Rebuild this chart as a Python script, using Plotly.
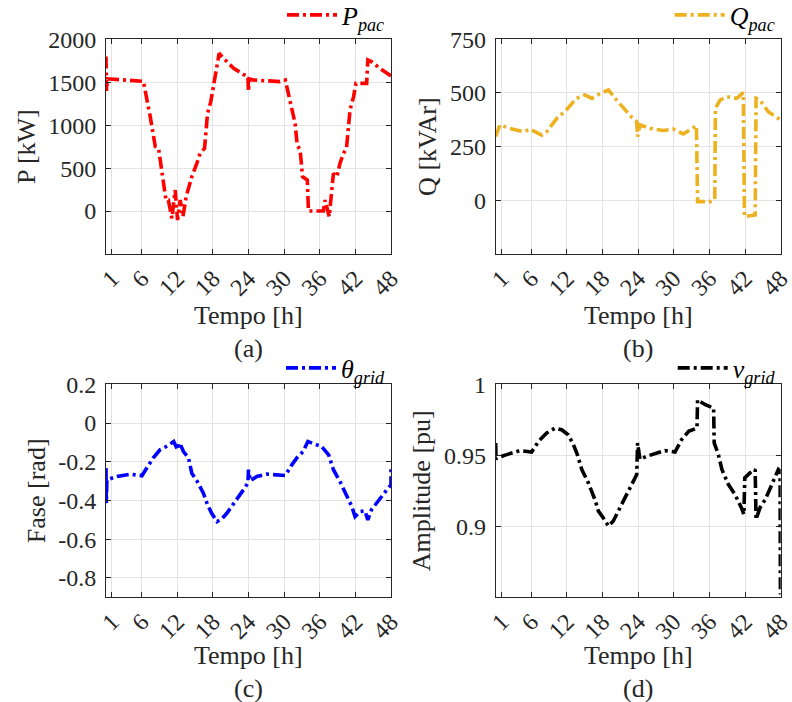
import plotly.graph_objects as go

# ---------------- data ----------------
hour_ticks = [1, 6, 12, 18, 24, 30, 36, 42, 48]

tP = [0, 0.1, 0.25, 2, 4, 5.7, 6.3, 7.45, 8.3, 8.85, 9.7, 10.1, 10.5, 11.1, 11.65, 12.05, 12.5, 12.95, 13.5, 13.9,
      14.45, 15.3, 15.85, 16.6, 17.1, 17.65, 18.4, 19.06, 19.8, 21.5, 23.15, 23.9, 24.0, 24.1, 24.8, 27.1, 29.3, 30.2,
      31.0, 31.85, 32.2, 32.7, 33.1, 33.9, 34.1, 35.5, 36.6, 36.9, 37.3, 37.6, 38.3, 38.9, 39.4, 40.0, 40.5, 41.1,
      41.7, 42.1, 43.9, 44.1, 44.7, 46.1, 48]
P_pac = [1800, 1400, 1540, 1530, 1520, 1507, 1510, 1099, 750, 730, 361, 128, 128, -85, 245, -105, 128, -66, 167, 283,
         400, 555, 672, 730, 1138, 1274, 1604, 1837, 1778, 1662, 1592, 1565, 1390, 1540, 1526, 1514, 1507, 1526,
         1293, 1021, 769, 710, 400, 361, 0, 0, 0, 128, 0, -66, 439, 400, 555, 672, 730, 1177,
         1332, 1487, 1487, 1759, 1740, 1662, 1573]

tQ = [0, 0.7, 2.4, 4.7, 5.8, 7.75, 8.6, 10.3, 11.9, 13.6, 15.0, 16.2, 17.6, 19.0, 20.1, 21.5, 22.9, 23.75, 23.9, 24.3,
      26.0, 28.2, 29.9, 31.6, 32.7, 33.8, 34.0, 35.0, 35.8, 36.9, 37.0, 37.8, 38.9, 40.6, 41.7, 41.9, 43.7, 43.85,
      44.5, 45.9, 48]
Q_pac = [297, 351, 335, 320, 331, 304, 320, 382, 421, 475, 491, 475, 498, 514, 475, 429, 387, 367, 297, 351,
         335, 325, 332, 309, 328, 348, -6, -6, -11, 5, 429, 467, 483, 475, 502, -76, -68, 475,
         467, 413, 374]

tT = [0, 0.05, 0.15, 1.85, 4.1, 6.05, 7.2, 8.0, 9.1, 10.5, 11.4, 12.05, 12.4, 13.05, 13.9, 14.45, 15.3, 16.4, 17.1,
      17.8, 18.7, 19.5, 20.35, 21.2, 22.05, 23.15, 23.9, 24.0, 24.3, 25.4, 27.1, 29.3, 30.2, 31.3, 32.2, 33.2, 34.0,
      35.0, 36.3, 37.5, 38.3, 39.4, 40.5, 41.4, 41.95, 42.8, 43.6, 44.1, 44.7, 45.9, 47.3, 48.0, 48.0]
theta_grid = [-0.233, -0.414, -0.293, -0.276, -0.264, -0.272, -0.216, -0.178, -0.138, -0.116, -0.095, -0.138, -0.103,
              -0.147, -0.181, -0.259, -0.298, -0.362, -0.422, -0.466, -0.509, -0.495, -0.466, -0.431, -0.397, -0.345,
              -0.31, -0.241, -0.298, -0.276, -0.264, -0.267, -0.271, -0.216, -0.178, -0.147, -0.095, -0.107, -0.121,
              -0.164, -0.241, -0.302, -0.371, -0.431, -0.483, -0.457, -0.453, -0.5, -0.448, -0.397, -0.345, -0.319,
              -0.224]

tV = [0, 0.05, 0.15, 1.85, 4.1, 6.05, 7.2, 8.6, 10.0, 11.1, 12.2, 13.1, 13.75, 14.5, 15.6, 16.7, 17.3, 18.1, 19.0,
      19.8, 20.65, 21.8, 22.9, 23.75, 23.9, 24.3, 25.4, 27.1, 28.5, 30.2, 31.3, 32.5, 33.9, 34.0, 35.3, 36.7, 36.8,
      37.5, 38.1, 39.2, 40.3, 41.4, 41.8, 41.95, 42.8, 43.7, 43.85, 44.5, 45.4, 46.5, 47.6, 47.9, 47.95]
v_grid = [0.9587, 0.947, 0.948, 0.9505, 0.9533, 0.9523, 0.9598, 0.9657, 0.9692, 0.968, 0.9645, 0.9575, 0.9505, 0.94,
          0.9306, 0.9189, 0.9107, 0.906, 0.9001, 0.9037, 0.9107, 0.92, 0.9294, 0.9364, 0.9587, 0.947, 0.9493, 0.9516,
          0.9533, 0.9523, 0.961, 0.9669, 0.9692, 0.9891, 0.9856, 0.9833, 0.9587, 0.9505, 0.94, 0.9294, 0.9224, 0.913,
          0.9083, 0.9341, 0.9376, 0.94, 0.9048, 0.913, 0.9189, 0.9294, 0.94, 0.9388, 0.852]

P_ticks = [0, 500, 1000, 1500, 2000]
Q_ticks = [0, 250, 500, 750]
theta_ticks = [-0.8, -0.6, -0.4, -0.2, 0, 0.2]
theta_ticktext = ["-0.8", "-0.6", "-0.4", "-0.2", "0", "0.2"]
v_ticks = [0.9, 0.95, 1.0]
v_ticktext = ["0.9", "0.95", "1"]

# ---------------- figure ----------------
FONT = "Liberation Serif, Times New Roman, serif"
FS_TICK = 24
FS_TITLE = 26
W, H = 792, 702
DASH = "12px,4px,3px,4px"
LW = 3.6
TXT = "#262626"

fig = go.Figure()
series = [
    (tP, P_pac, "#FF0000", "<i>P</i><sub><i>pac</i></sub>", "x", "y", "legend"),
    (tQ, Q_pac, "#EDB120", "<i>Q</i><sub><i>pac</i></sub>", "x2", "y2", "legend2"),
    (tT, theta_grid, "#0000FF", "<i>θ</i><sub><i>grid</i></sub>", "x3", "y3", "legend3"),
    (tV, v_grid, "#000000", "<i>v</i><sub><i>grid</i></sub>", "x4", "y4", "legend4"),
]
for xs, ys, col, name, xa, ya, lg in series:
    fig.add_trace(go.Scatter(x=xs, y=ys, mode="lines", name=name, xaxis=xa, yaxis=ya, legend=lg,
                             line=dict(color=col, width=LW, dash=DASH), showlegend=True))

xl = [106 / W, 391 / W]
xr = [495.7 / W, 780.7 / W]
yt = [1 - 254 / H, 1 - 39.3 / H]
yb = [1 - 597.3 / H, 1 - 384.3 / H]

common_axis = dict(showline=True, linecolor=TXT, linewidth=1, mirror="ticks", ticks="inside",
                   ticklen=5, tickcolor=TXT, showgrid=True, gridcolor="#e3e3e3", gridwidth=1,
                   zeroline=False, tickfont=dict(family=FONT, size=FS_TICK, color=TXT),
                   ticklabeloverflow="allow", automargin=False)

def xaxis(domain, anchor):
    return dict(common_axis, domain=domain, anchor=anchor, range=[0, 48], tickmode="array",
                tickvals=hour_ticks, ticktext=[str(h) for h in hour_ticks], tickangle=-45)

def yaxis(domain, anchor, rng, tv, tt, title):
    return dict(common_axis, domain=domain, anchor=anchor, range=rng, tickmode="array", tickvals=tv,
                ticktext=tt, ticklabelstandoff=4,
                title=dict(text=title, font=dict(family=FONT, size=FS_TITLE, color=TXT), standoff=5))

def legend(x, y):
    return dict(x=x, y=y, xanchor="right", yanchor="middle", bgcolor="rgba(0,0,0,0)",
                font=dict(family=FONT, size=FS_TITLE, color="#000000"), itemwidth=50,
                tracegroupgap=0, borderwidth=0)

fig.update_layout(
    width=W, height=H, margin=dict(l=0, r=0, t=0, b=0, autoexpand=False),
    paper_bgcolor="white", plot_bgcolor="white",
    font=dict(family=FONT, size=FS_TICK, color=TXT),
    xaxis=xaxis(xl, "y"), yaxis=yaxis(yt, "x", [-500, 2000], P_ticks, [str(v) for v in P_ticks], "P [kW]"),
    xaxis2=xaxis(xr, "y2"), yaxis2=yaxis(yt, "x2", [-250, 750], Q_ticks, [str(v) for v in Q_ticks], "Q [kVAr]"),
    xaxis3=xaxis(xl, "y3"), yaxis3=yaxis(yb, "x3", [-0.9, 0.2], theta_ticks, theta_ticktext, "Fase [rad]"),
    xaxis4=xaxis(xr, "y4"), yaxis4=yaxis(yb, "x4", [0.85, 1.0], v_ticks, v_ticktext, "Amplitude [pu]"),
    legend=legend(xl[1], 1 - 15 / H), legend2=legend(xr[1], 1 - 15 / H),
    legend3=legend(xl[1], 1 - 368 / H), legend4=legend(xr[1], 1 - 368 / H),
)

labels = [("Tempo [h]", (xl[0] + xl[1]) / 2, 1 - 315 / H), ("Tempo [h]", (xr[0] + xr[1]) / 2, 1 - 315 / H),
          ("Tempo [h]", (xl[0] + xl[1]) / 2, 1 - 655 / H), ("Tempo [h]", (xr[0] + xr[1]) / 2, 1 - 655 / H),
          ("(a)", (xl[0] + xl[1]) / 2, 1 - 348 / H), ("(b)", (xr[0] + xr[1]) / 2, 1 - 348 / H),
          ("(c)", (xl[0] + xl[1]) / 2, 1 - 688 / H), ("(d)", (xr[0] + xr[1]) / 2, 1 - 688 / H)]
for txt, xc, yc in labels:
    fig.add_annotation(text=txt, x=xc, y=yc, xref="paper", yref="paper", showarrow=False,
                       font=dict(family=FONT, size=FS_TITLE, color=TXT), xanchor="center", yanchor="middle")

fig.write_html("out.html")
